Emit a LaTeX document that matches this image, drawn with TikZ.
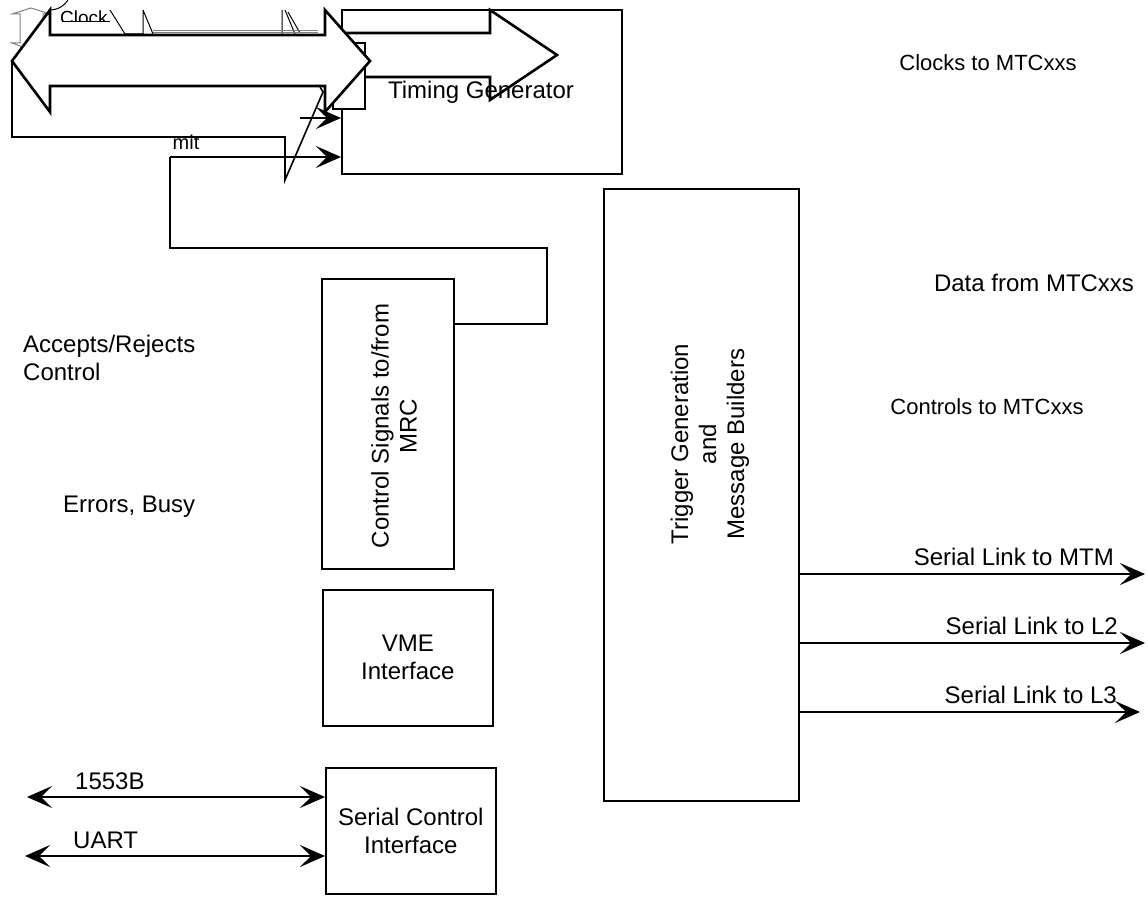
\documentclass[tikz,border=0pt]{standalone}
\usepackage{fontspec}
\setmainfont{Liberation Sans}
\usetikzlibrary{arrows.meta}
\tikzset{vtip/.tip={Stealth[length=25pt,width=22pt,inset=11pt]}}
\begin{document}
\begin{tikzpicture}[x=1pt,y=-1pt,
  blk/.style={draw, line width=1.6pt, inner sep=0pt, anchor=north west},
  lbl/.style={font=\fontsize{24}{28}\selectfont, inner sep=0pt, align=center},
  smalllbl/.style={font=\fontsize{22}{26}\selectfont, inner sep=0pt},
  conn/.style={line width=1.6pt},
  onearrow/.style={conn, -{vtip}},
  twoarrow/.style={conn, {vtip}-{vtip}},
  blockarrow/.style={draw, line width=2.6pt, line join=miter}
]
\useasboundingbox (0,0) rectangle (1148,901);

% ---- main blocks ----
\node[blk, minimum width=280pt, minimum height=164pt] (tg) at (341,9) {};
\node[blk, minimum width=132pt, minimum height=290pt] (ctrl) at (321,278) {};
\node[blk, minimum width=195pt, minimum height=612pt] (trig) at (603,188) {};
\node[blk, minimum width=170pt, minimum height=136pt, lbl] (vme) at (322,589) {VME\\Interface};
\node[blk, minimum width=170pt, minimum height=126pt, lbl] (sci) at (325,767) {Serial Control\\Interface};

\node[lbl, rotate=90] (ctrltxt) at (394,426) {Control Signals to/from\\MRC};
\node[lbl, rotate=90] (trigtxt) at (710,444) {Trigger Generation\\and\\Message Builders};

% ---- free labels ----
\node[smalllbl] (clk) at (988,63) {Clocks to MTCxxs};
\node[lbl] (dat) at (1034,283) {Data from MTCxxs};
\node[smalllbl] (cto) at (987,407) {Controls to MTCxxs};
\node[lbl, align=left, anchor=west] (acc) at (23,358) {Accepts/Rejects\\Control};
\node[lbl, anchor=west] (err) at (63,507) {Errors, Busy};

% ---- timing generator: inner block arrow and overlays ----
\node[lbl] (tgtxt) at (481,92) {Timing Generator};
\draw[blockarrow] (341,33) -- (490,33) -- (490,10) -- (557,55) -- (490,100) -- (490,77) -- (365,77);
\draw[line width=1.2pt, fill=white] (333,43) rectangle (365,109);

% thin strokes in the top left corner
\draw[gray, line width=1pt] (12,14) -- (31,8) -- (50,14) -- (43,14) -- (43,43) -- (50,43)
  -- (31,50) -- (12,43) -- (20,43) -- (20,14) -- cycle;
\node[font=\fontsize{19}{22}\selectfont, inner sep=0pt, anchor=west] (clkpart) at (60,18) {Clock};
\fill[white] (60,22) rectangle (112,34);
\draw[line width=1pt] (62,22) -- (110,22);
\draw[line width=1pt] (50,10) arc[start angle=90, end angle=0, radius=21];
\draw[line width=1pt] (110,10) -- (125,34) (125,34) -- (143,34) (143,10) -- (143,34) (143,10) -- (153,34);
\draw[line width=1pt] (282,10) -- (282,34) (285,10) -- (295,34) (288,12) -- (300,33);
\draw[gray, line width=1pt] (153,31) -- (318,31) (153,33) -- (318,33);

% ---- large two-way block arrow ----
\draw[blockarrow, fill=white] (12,61) -- (50,10) -- (50,35) -- (325,35) -- (325,10) -- (370,61)
  -- (325,112) -- (325,86) -- (50,86) -- (50,112) -- cycle;

% ---- lower left outline ----
\node[font=\fontsize{20}{24}\selectfont, inner sep=0pt] (mit) at (186,142) {mit};
\draw[conn, line join=miter] (12,61) -- (12,137) -- (285,137) -- (285,180) -- (323,92) -- (320,87);
\coordinate (in1) at (300,118);
\draw[onearrow] (in1) -- (tg.west |- in1);

% ---- feedback from control block to timing generator ----
\coordinate (fb) at (453,324);
\draw[conn] (ctrl.east |- fb) -- (547,324) -- (547,248) -- (170,248) -- (170,157);
\draw[onearrow] (170,157) -- (tg.west |- 0,157);

% ---- serial links ----
\coordinate (mtm) at (1145,574);
\coordinate (l2) at (1145,643);
\coordinate (l3) at (1140,712);
\draw[onearrow] (trig.east |- mtm) -- (mtm);
\draw[onearrow] (trig.east |- l2) -- (l2);
\draw[onearrow] (trig.east |- l3) -- (l3);
\node[lbl, anchor=south east] (mtmlbl) at (1114,566) {Serial Link to MTM};
\node[lbl, anchor=south east] (l2lbl) at (1118,635) {Serial Link to L2};
\node[lbl, anchor=south east] (l3lbl) at (1117,704) {Serial Link to L3};

% ---- serial control interface links ----
\coordinate (b1553) at (27,797);
\coordinate (uart) at (25,856);
\draw[twoarrow] (b1553) -- (sci.west |- b1553);
\draw[twoarrow] (uart) -- (sci.west |- uart);
\node[lbl, anchor=south west] (b1553lbl) at (75,790) {1553B};
\node[lbl, anchor=south west] (uartlbl) at (73,849) {UART};
\end{tikzpicture}
\end{document}
